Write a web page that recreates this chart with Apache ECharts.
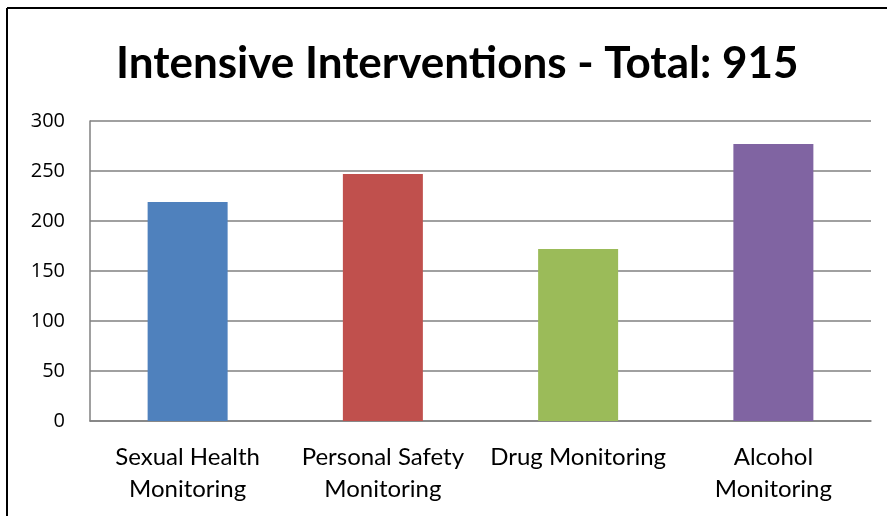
<!DOCTYPE html>
<html>
<head>
<meta charset="utf-8">
<script src="https://cdn.jsdelivr.net/npm/echarts@6/dist/echarts.min.js"></script>
<style>html,body{margin:0;padding:0;background:#fff;}#c{width:887px;height:516px;}</style>
</head>
<body>
<div id="c"></div>
<script>
var titleText = 'Intensive Interventions - Total: 915';
var categories = ['Sexual Health\nMonitoring', 'Personal Safety\nMonitoring', 'Drug Monitoring', 'Alcohol\nMonitoring'];
var values = [219, 247, 172, 277];
var colors = ['#4F81BD', '#C0504D', '#9BBB59', '#8064A2'];
var yTicks = [0, 50, 100, 150, 200, 250, 300];

var chart = echarts.init(document.getElementById('c'));
chart.setOption({
  animation: false,
  title: {
    text: titleText,
    left: 111,
    top: 37,
    textStyle: {fontFamily: 'Lato', fontWeight: 'bold', fontSize: 44, color: '#000'}
  },
  graphic: [
    {type: 'line', shape: {x1: 7, y1: 8, x2: 887, y2: 8}, style: {stroke: '#000', lineWidth: 2}},
    {type: 'line', shape: {x1: 7, y1: 8, x2: 7, y2: 516}, style: {stroke: '#000', lineWidth: 2}}
  ],
  grid: {left: 90, right: 16, top: 121, bottom: 95},
  xAxis: {
    type: 'category',
    data: categories,
    axisLine: {lineStyle: {color: '#808080', width: 1.5}},
    axisTick: {show: false},
    axisLabel: {fontFamily: 'Lato', fontSize: 24, color: '#000', lineHeight: 32, margin: 20, interval: 0}
  },
  yAxis: {
    type: 'value',
    min: yTicks[0],
    max: yTicks[yTicks.length - 1],
    interval: yTicks[1] - yTicks[0],
    axisLine: {show: true, lineStyle: {color: '#808080', width: 1.5}},
    axisTick: {show: false},
    splitLine: {lineStyle: {color: '#808080', width: 1.5}},
    axisLabel: {fontFamily: 'Open Sans', fontSize: 20, color: '#000', margin: 25}
  },
  series: [{
    type: 'bar',
    data: values.map(function (v, i) { return {value: v, itemStyle: {color: colors[i]}}; }),
    barWidth: 80
  }]
});
</script>
</body>
</html>
